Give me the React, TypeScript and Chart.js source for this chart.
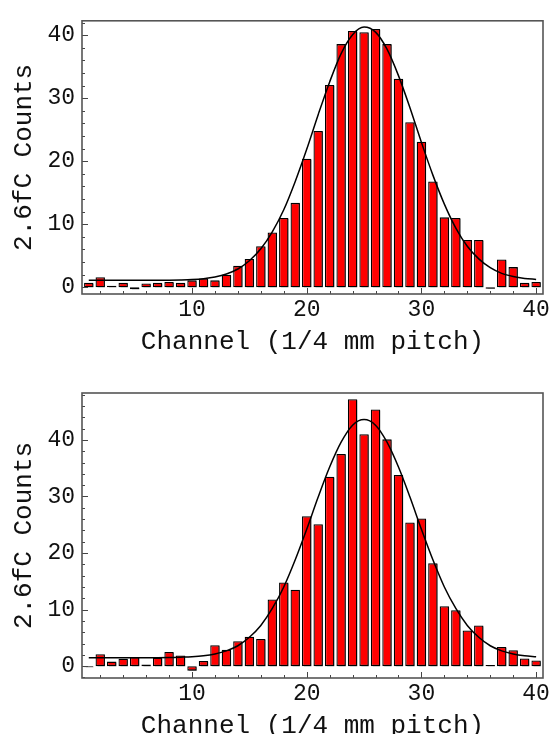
import React, { useEffect, useRef } from "react";
import { Chart, registerables } from "chart.js";

Chart.register(...registerables);

// ---------- data ----------
const channels = [
  1, 2, 3, 4, 5, 6, 7, 8, 9, 10, 11, 12, 13, 14, 15, 16, 17, 18, 19, 20,
  21, 22, 23, 24, 25, 26, 27, 28, 29, 30, 31, 32, 33, 34, 35, 36, 37, 38, 39, 40,
];

const topCounts = [
  0.7, 1.6, 0.25, 0.7, -0.3, 0.6, 0.7, 0.85, 0.7, 1.1,
  1.4, 1.1, 2.0, 3.4, 4.5, 6.5, 8.7, 11.0, 13.4, 20.4,
  24.8, 32.1, 38.6, 40.7, 40.5, 41.0, 38.6, 33.1, 26.2, 23.1,
  16.8, 11.1, 11.0, 7.5, 7.5, -0.25, 4.4, 3.2, 0.7, 0.85,
];

const topFit = [
  1.1, 1.1, 1.1, 1.1, 1.1, 1.1, 1.1, 1.12, 1.16, 1.23,
  1.37, 1.63, 2.1, 2.9, 4.2, 6.1, 8.8, 12.3, 16.8, 21.9,
  27.4, 32.6, 37.1, 40.1, 41.3, 40.5, 37.8, 33.6, 28.5, 23.0,
  17.8, 13.2, 9.4, 6.5, 4.5, 3.1, 2.2, 1.7, 1.4, 1.25,
];

const bottomCounts = [
  -0.2, 2.1, 0.8, 1.3, 1.6, 0.3, 1.5, 2.5, 1.9, -0.8,
  0.9, 3.7, 2.9, 4.4, 5.2, 4.8, 11.8, 14.8, 13.5, 26.5,
  25.1, 33.5, 37.5, 47.2, 41.0, 45.4, 40.1, 33.8, 25.4, 26.1,
  18.2, 10.6, 9.9, 6.3, 7.2, 0.2, 3.4, 2.8, 1.35, 1.0,
];

const bottomFit = [
  1.5, 1.5, 1.5, 1.5, 1.5, 1.5, 1.5, 1.52, 1.58, 1.66,
  1.83, 2.15, 2.7, 3.6, 5.1, 7.2, 10.2, 14.0, 18.8, 24.2,
  29.9, 35.2, 39.6, 42.6, 43.6, 42.6, 39.6, 35.2, 29.9, 24.2,
  18.8, 14.0, 10.2, 7.2, 5.1, 3.6, 2.7, 2.15, 1.83, 1.66,
];

const xTickLabels = [10, 20, 30, 40];
const yTickLabels = [0, 10, 20, 30, 40];
const xTitle = "Channel (1/4 mm pitch)";
const yTitle = "2.6fC Counts";

// ---------- styling ----------
const FONT = "'Liberation Mono', 'Courier New', monospace";

const framePlugin = {
  id: "frameTicks",
  afterDatasetsDraw(chart: any) {
    const { ctx, chartArea, scales } = chart;
    const { left, right, top, bottom } = chartArea;
    const x = scales.x;
    const y = scales.y;
    ctx.save();
    ctx.strokeStyle = "#444";
    ctx.lineWidth = 1;
    ctx.beginPath();
    for (let v = 2; v <= 40; v += 2) {
      const px = Math.round(x.getPixelForValue(v)) + 0.5;
      const len = v % 10 === 0 ? 6 : 3;
      ctx.moveTo(px, bottom);
      ctx.lineTo(px, bottom - len);
    }
    for (let v = Math.ceil(y.min / 2) * 2; v <= y.max; v += 2) {
      const py = Math.round(y.getPixelForValue(v)) + 0.5;
      const len = v % 10 === 0 ? 6 : 3;
      ctx.moveTo(left, py);
      ctx.lineTo(left + len, py);
    }
    ctx.stroke();
    ctx.lineWidth = 1.6;
    ctx.strokeStyle = "#555";
    ctx.strokeRect(left, top, right - left, bottom - top);
    ctx.restore();
  },
};

const shadowPlugin = {
  id: "barShadow",
  beforeDatasetDraw(chart: any, args: any) {
    if (args.meta.type !== "bar") return;
    const ctx = chart.ctx;
    ctx.save();
    ctx.shadowColor = "rgba(0,0,0,0.5)";
    ctx.shadowOffsetX = 2;
    ctx.shadowOffsetY = 1;
    ctx.shadowBlur = 0;
  },
  afterDatasetDraw(chart: any, args: any) {
    if (args.meta.type !== "bar") return;
    chart.ctx.restore();
  },
};

type HistProps = {
  counts: number[];
  fit: number[];
  yMin: number;
  yMax: number;
  padTop: number;
  xAxisHeight: number;
  height: number;
  top: number;
  xTitlePad: number;
};

function Histogram(props: HistProps) {
  const ref = useRef<HTMLCanvasElement | null>(null);
  useEffect(() => {
    if (!ref.current) return;
    const chart = new Chart(ref.current, {
      type: "bar",
      data: {
        datasets: [
          {
            type: "line",
            data: channels.map((c, i) => ({ x: c, y: props.fit[i] })),
            borderColor: "#000",
            borderWidth: 1.5,
            pointRadius: 0,
            cubicInterpolationMode: "monotone",
            fill: false,
            order: 0,
          } as any,
          {
            type: "bar",
            data: channels.map((c, i) => ({ x: c, y: props.counts[i] })),
            backgroundColor: "#ff0000",
            borderColor: "#000",
            borderWidth: 1.3,
            borderSkipped: false,
            barPercentage: 0.82,
            categoryPercentage: 1,
            order: 1,
          } as any,
        ],
      },
      options: {
        animation: false,
        responsive: false,
        maintainAspectRatio: false,
        layout: { padding: { top: props.padTop, right: 14, left: 0, bottom: 0 } },
        plugins: {
          legend: { display: false },
          tooltip: { enabled: false },
        },
        scales: {
          x: {
            type: "linear",
            min: 0.41,
            max: 40.6,
            offset: false,
            grid: { display: false, drawTicks: false },
            border: { display: false },
            afterBuildTicks: (s: any) => {
              s.ticks = xTickLabels.map((v) => ({ value: v }));
            },
            afterFit: (s: any) => {
              s.height = props.xAxisHeight;
            },
            ticks: {
              font: { family: FONT, size: 23 },
              color: "#111",
              padding: 2,
              maxRotation: 0,
              autoSkip: false,
            },
            title: {
              display: true,
              text: xTitle,
              color: "#111",
              font: { family: FONT, size: 26, lineHeight: 1.2 },
              padding: { top: 0, bottom: props.xTitlePad },
            },
          },
          y: {
            type: "linear",
            min: props.yMin,
            max: props.yMax,
            grid: { display: false, drawTicks: false },
            border: { display: false },
            afterBuildTicks: (s: any) => {
              s.ticks = yTickLabels.map((v) => ({ value: v }));
            },
            afterFit: (s: any) => {
              s.width = 82;
            },
            ticks: {
              font: { family: FONT, size: 23 },
              color: "#111",
              padding: 7,
              autoSkip: false,
            },
            title: {
              display: true,
              text: yTitle,
              color: "#111",
              font: { family: FONT, size: 26, lineHeight: 1.2 },
              padding: { top: 8.4, bottom: 0 },
            },
          },
        },
      } as any,
      plugins: [shadowPlugin, framePlugin],
    });
    return () => chart.destroy();
  }, []);
  return (
    <canvas
      ref={ref}
      width={557}
      height={props.height}
      style={{ position: "absolute", left: 0, top: props.top, width: 557, height: props.height, display: "block" }}
    />
  );
}

export default function App() {
  return (
    <div
      style={{
        position: "absolute",
        left: 0,
        top: 0,
        width: 557,
        height: 734,
        overflow: "hidden",
        background: "#fff",
      }}
    >
      <Histogram
        counts={topCounts}
        fit={topFit}
        yMin={-1.07}
        yMax={42.3}
        padTop={10}
        xAxisHeight={73}
        height={367}
        top={0}
        xTitlePad={9.4}
      />
      <Histogram
        counts={bottomCounts}
        fit={bottomFit}
        yMin={-2.1}
        yMax={48.3}
        padTop={26}
        xAxisHeight={89}
        height={400}
        top={367}
        xTitlePad={25.4}
      />
    </div>
  );
}
